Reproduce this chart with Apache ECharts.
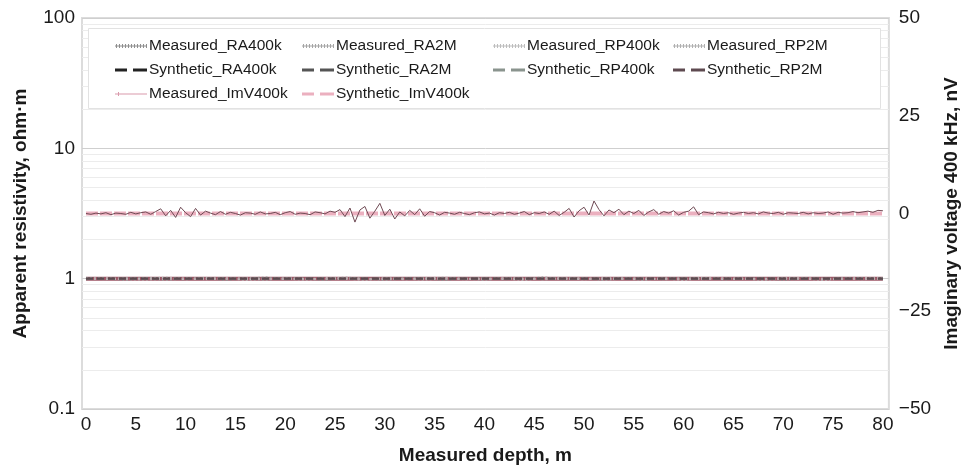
<!DOCTYPE html>
<html><head><meta charset="utf-8">
<script src="https://cdn.jsdelivr.net/npm/echarts@6/dist/echarts.min.js"></script>
<style>html,body{margin:0;padding:0;background:#fff}#c{width:969px;height:475px}</style>
</head><body><div id="c"></div>
<script>
// ---- data ----
const depthTicks = [0,5,10,15,20,25,30,35,40,45,50,55,60,65,70,75,80];
const resTicks = [0.1,1,10,100];
const resMinorLines = [0.2,0.3,0.4,0.5,0.6,0.7,0.8,0.9,2,3,4,5,6,7,8,9,20,30,40,50,60,70,80,90];
const voltTicks = [-50,-25,0,25,50];

// measured resistivities sampled every 2 m (0..80)
const measStep = 2;
const measuredRA400k = [0.99,1.00,0.98,1.01,1.00,0.99,1.01,0.98,1.00,1.02,0.99,1.00,0.98,1.01,1.00,0.99,1.01,1.00,0.98,1.00,1.01,0.99,1.00,1.02,0.99,1.00,0.98,1.01,1.00,0.99,1.01,1.00,0.99,1.00,1.01,0.98,1.00,0.99,1.01,1.00,0.99];
const measuredRA2M   = [1.00,0.99,1.01,1.00,0.98,1.00,1.01,0.99,1.00,0.98,1.01,1.00,0.99,1.02,1.00,0.98,1.00,1.01,0.99,1.00,0.98,1.01,1.00,0.99,1.01,1.00,0.99,1.00,0.98,1.01,1.00,1.01,0.99,1.00,0.98,1.00,1.01,1.00,0.99,1.00,1.01];
const measuredRP400k = [1.01,1.00,0.99,1.00,1.02,0.99,1.00,1.01,0.98,1.00,1.00,0.99,1.01,1.00,0.98,1.01,0.99,1.00,1.02,0.99,1.00,1.00,0.98,1.01,1.00,0.99,1.01,1.00,0.99,1.00,0.98,1.01,1.00,1.00,0.99,1.01,1.00,0.98,1.00,1.01,1.00];
const measuredRP2M   = [1.00,1.01,0.99,0.98,1.00,1.01,0.99,1.00,1.01,0.99,1.00,0.98,1.00,1.01,0.99,1.00,1.00,0.98,1.01,1.00,0.99,1.01,1.00,0.99,1.00,1.01,0.98,1.00,1.01,0.99,1.00,0.99,1.01,1.00,0.98,1.00,1.01,0.99,1.00,0.99,1.00];

// synthetic model responses (start / end depth)
const synthDepth = [0, 80];
const syntheticRA400k = [1.0, 1.0];
const syntheticRA2M   = [1.0, 1.0];
const syntheticRP400k = [1.0, 1.0];
const syntheticRP2M   = [1.0, 1.0];
const syntheticImV400k = [0, 0];

// measured imaginary voltage, nV, sampled every 0.5 m (0..80)
const imvStep = 0.5;
const measuredImV400k = [
 0.0,-0.2,0.1,-0.1,0.2,-0.3,0.1,0.0,-0.2,0.3,-0.1,0.2,0.4,-0.2,0.5,
 1.2,-0.6,0.8,-1.0,1.6,0.2,-0.8,1.3,-0.4,0.6,
 0.1,-0.3,0.5,-0.2,0.3,0.0,-0.4,0.2,0.1,-0.2,0.4,-0.1,0.0,0.3,-0.3,0.2,0.5,-0.2,0.1,0.0,-0.3,0.4,0.2,-0.1,0.6,0.3,
 1.0,-0.8,1.4,-2.2,0.9,1.8,-1.2,0.6,2.6,-0.5,1.1,-1.4,0.4,-0.6,
 0.8,-0.3,1.2,-0.7,0.5,0.2,-0.4,0.3,
 0.1,-0.2,0.3,0.0,-0.3,0.2,0.4,-0.1,0.1,-0.4,0.2,0.0,0.3,-0.2,0.1,0.5,-0.3,0.2,0.0,0.4,-0.2,0.6,-0.5,0.3,
 1.3,-0.9,0.7,1.6,-0.4,3.2,1.0,-0.6,
 0.9,0.2,1.1,-0.3,0.6,0.0,0.8,-0.5,0.4,1.0,-0.2,0.5,0.1,0.7,-0.4,0.3,0.6,1.7,-0.3,0.4,
 0.2,-0.1,0.3,0.0,0.2,-0.2,0.1,0.3,0.0,0.2,-0.1,0.4,0.1,0.0,0.3,-0.2,0.2,0.1,0.0,0.3,-0.1,0.2,0.0,0.1,0.4,-0.2,0.3,0.1,0.2,0.5,0.2,0.4,0.6,0.3,0.8,0.7
];

// ---- helpers ----
const pairs = (vals, step) => vals.map((v, i) => [i * step, v]);
const pairsX = (xs, vals) => vals.map((v, i) => [xs[i], v]);
const FONT = 'Liberation Sans, Arial, Helvetica, sans-serif';

const chart = echarts.init(document.getElementById('c'), null, {renderer: 'canvas'});

function lineSeries(name, data, color, type, width, yIdx, z) {
  return {
    name, type: 'line', data, yAxisIndex: yIdx, showSymbol: false, symbol: 'none',
    lineStyle: {color, type, width}, itemStyle: {color}, z: z, animation: false,
    emphasis: {disabled: true}
  };
}

const series = [
  lineSeries('Measured_RA400k', pairs(measuredRA400k, measStep), '#8e8e8e', 'dotted', 2, 0, 2),
  lineSeries('Measured_RA2M', pairs(measuredRA2M, measStep), '#a5a5a5', 'dotted', 2, 0, 2),
  lineSeries('Measured_RP400k', pairs(measuredRP400k, measStep), '#bdbdbd', 'dotted', 2, 0, 2),
  lineSeries('Measured_RP2M', pairs(measuredRP2M, measStep), '#b9a5a9', 'dotted', 2, 0, 2),
  lineSeries('Synthetic_RA400k', pairsX(synthDepth, syntheticRA400k), '#222222', [7,4], 2, 0, 3),
  lineSeries('Synthetic_RA2M', pairsX(synthDepth, syntheticRA2M), '#555555', [7,4], 2, 0, 3),
  lineSeries('Synthetic_RP400k', pairsX(synthDepth, syntheticRP400k), '#8a948e', [7,4], 2, 0, 3),
  lineSeries('Synthetic_RP2M', pairsX(synthDepth, syntheticRP2M), '#5e4a50', [7,4], 2, 0, 4),
  lineSeries('Measured_ImV400k', pairs(measuredImV400k, imvStep), '#6f4a54', 'solid', 1, 1, 5),
  lineSeries('Synthetic_ImV400k', pairsX(synthDepth, syntheticImV400k), '#ebb0bf', [12,2], 4, 1, 4)
];
// extra underlay giving the reddish tone of the 1 ohm·m bundle (uses synthetic RP2M values)
series.push({
  type: 'line', data: pairsX(synthDepth, syntheticRP2M), yAxisIndex: 0, symbol: 'none',
  lineStyle: {color: '#9c5565', width: 4}, z: 1, silent: true, animation: false, legendHoverLink: false
});

const ICON_MEAS = 'path://M0,1.5h32v1h-32z M1,0h1v4h-1z M4,0h1v4h-1z M7,0h1v4h-1z M10,0h1v4h-1z M13,0h1v4h-1z M16,0h1v4h-1z M19,0h1v4h-1z M22,0h1v4h-1z M25,0h1v4h-1z M28,0h1v4h-1z M31,0h1v4h-1z';
const ICON_SYN = 'path://M0,0.5h12v3h-12z M18,0.5h14v3h-14z M0,0h0.01v4h-0.01z';
const ICON_MIMV = 'path://M0,1.5h32v1h-32z M3,0h1v4h-1z';

const legendNames = {
  'Measured_RA400k': ICON_MEAS, 'Measured_RA2M': ICON_MEAS, 'Measured_RP400k': ICON_MEAS, 'Measured_RP2M': ICON_MEAS,
  'Synthetic_RA400k': ICON_SYN, 'Synthetic_RA2M': ICON_SYN, 'Synthetic_RP400k': ICON_SYN, 'Synthetic_RP2M': ICON_SYN,
  'Measured_ImV400k': ICON_MIMV, 'Synthetic_ImV400k': ICON_SYN
};
const legendColor = {'Measured_ImV400k': '#d99aab', 'Measured_RP2M': '#b0b0b0'};

function legendCol(left, names) {
  return {
    orient: 'vertical', left, top: 38, padding: 0, itemGap: 8, itemWidth: 32, itemHeight: 12,
    textStyle: {fontFamily: FONT, fontSize: 15.5, color: '#1a1a1a', padding: [0,0,0,-3]},
    selectedMode: false, z: 60,
    data: names.map(n => {
      const d = {name: n, icon: legendNames[n]};
      if (legendColor[n]) d.itemStyle = {color: legendColor[n]};
      return d;
    })
  };
}

const option = {
  animation: false,
  backgroundColor: '#fff',
  textStyle: {fontFamily: FONT},
  grid: {left: 82, right: 77, top: 18, bottom: 66, show: true, borderColor: '#dcdcdc', borderWidth: 2, backgroundColor: '#fff'},
  graphic: [{
    type: 'rect', left: 88, top: 28, shape: {width: 792, height: 80},
    style: {fill: '#fff', stroke: '#e2e2e2', lineWidth: 1}, z: 50
  }],
  legend: [
    legendCol(115, ['Measured_RA400k','Synthetic_RA400k','Measured_ImV400k']),
    legendCol(302, ['Measured_RA2M','Synthetic_RA2M','Synthetic_ImV400k']),
    legendCol(493, ['Measured_RP400k','Synthetic_RP400k']),
    legendCol(673, ['Measured_RP2M','Synthetic_RP2M'])
  ],
  xAxis: {
    type: 'value', min: -0.4, max: 80.6,
    axisLine: {show: false}, axisTick: {show: false},
    splitLine: {show: false},
    axisLabel: {customValues: depthTicks, fontFamily: FONT, fontSize: 19, color: '#1a1a1a', margin: 6},
    name: 'Measured depth, m', nameLocation: 'middle', nameGap: 37,
    nameTextStyle: {fontFamily: FONT, fontSize: 19, fontWeight: 'bold', color: '#1a1a1a'}
  },
  yAxis: [
    {
      type: 'log', logBase: 10, min: 0.1, max: 100, position: 'left',
      axisLine: {show: false}, axisTick: {show: false, customValues: resTicks},
      axisLabel: {customValues: resTicks, fontFamily: FONT, fontSize: 19, color: '#1a1a1a', margin: 7,
        formatter: v => String(+v.toPrecision(3))},
      splitLine: {show: true, lineStyle: {color: '#cfcfcf', width: 1}},
      name: 'Apparent resistivity, ohm·m', nameLocation: 'middle', nameGap: 52, nameRotate: 90,
      nameTextStyle: {fontFamily: FONT, fontSize: 19, fontWeight: 'bold', color: '#1a1a1a'}
    },
    {
      type: 'value', min: -50, max: 50, interval: 25, position: 'right',
      axisLine: {show: false}, axisTick: {show: false}, splitLine: {show: false},
      axisLabel: {customValues: voltTicks, fontFamily: FONT, fontSize: 19, color: '#1a1a1a', margin: 10,
        formatter: v => String(v).replace('-', '\u2212')},
      name: 'Imaginary voltage 400 kHz, nV', nameLocation: 'middle', nameGap: 53, nameRotate: 90,
      nameTextStyle: {fontFamily: FONT, fontSize: 19, fontWeight: 'bold', color: '#1a1a1a'}
    },
    {
      type: 'log', logBase: 10, min: 0.1, max: 100, show: true, position: 'left',
      axisLine: {show: false}, axisTick: {show: false, customValues: resMinorLines},
      axisLabel: {show: false},
      splitLine: {show: true, lineStyle: {color: '#ececec', width: 1}}
    }
  ],
  series
};
chart.setOption(option);
</script>
</body></html>
